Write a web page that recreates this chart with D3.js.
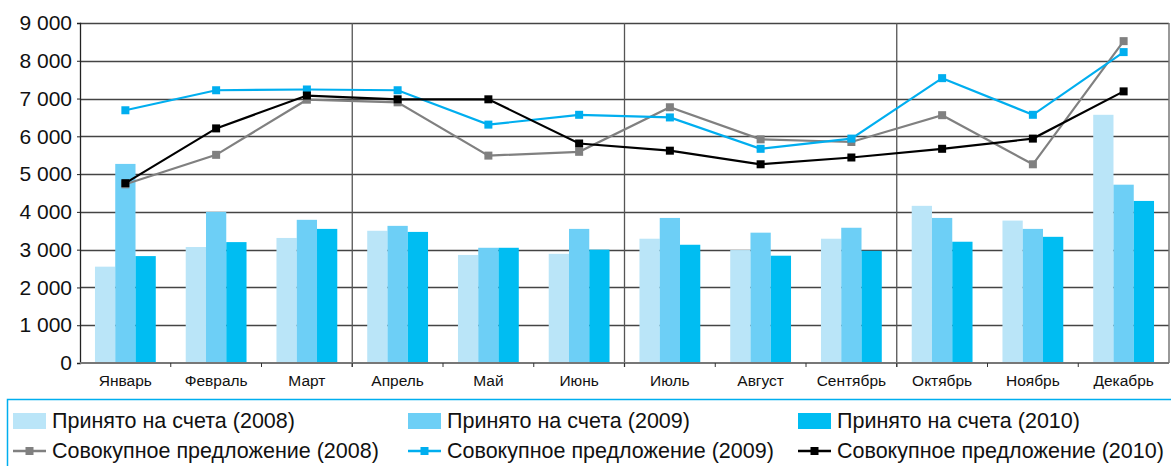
<!DOCTYPE html>
<html>
<head>
<meta charset="utf-8">
<script src="https://cdn.jsdelivr.net/npm/d3@7"></script>
<style>
  body { margin: 0; background: #fff; }
  svg { display: block; font-family: "Liberation Sans", Arial, sans-serif; }
</style>
</head>
<body>
<script>
/***** data *****/
var months = ["Январь", "Февраль", "Март", "Апрель", "Май", "Июнь",
              "Июль", "Август", "Сентябрь", "Октябрь", "Ноябрь", "Декабрь"];

var accepted2008 = [2550, 3070, 3310, 3500, 2860, 2890, 3290, 2990, 3290, 4160, 3770, 6570];
var accepted2009 = [5270, 4000, 3790, 3630, 3050, 3550, 3840, 3450, 3580, 3840, 3550, 4720];
var accepted2010 = [2830, 3200, 3550, 3470, 3050, 3000, 3130, 2840, 2970, 3210, 3340, 4290];

var supply2008 = [4730, 5510, 6970, 6900, 5490, 5590, 6770, 5920, 5850, 6560, 5260, 8520];
var supply2009 = [6690, 7220, 7240, 7220, 6310, 6570, 6500, 5670, 5940, 7540, 6570, 8230];
var supply2010 = [4760, 6210, 7080, 6980, 6980, 5810, 5620, 5260, 5440, 5670, 5940, 7190];

var yTicks = [0, 1000, 2000, 3000, 4000, 5000, 6000, 7000, 8000, 9000];

var barSeries = [
  {name: "Принято на счета (2008)", values: accepted2008, color: "#bae5f8"},
  {name: "Принято на счета (2009)", values: accepted2009, color: "#6dcff6"},
  {name: "Принято на счета (2010)", values: accepted2010, color: "#00bdf2"}
];
var lineSeries = [
  {name: "Совокупное предложение (2008)", values: supply2008, color: "#808080"},
  {name: "Совокупное предложение (2009)", values: supply2009, color: "#00aeef"},
  {name: "Совокупное предложение (2010)", values: supply2010, color: "#000000"}
];

/***** setup *****/
var width = 1171,
    height = 466,
    plotLeft = 80, plotRight = 1169, plotTop = 23, plotBottom = 363;

var svg = d3.select("body").append("svg")
    .attr("width", width)
    .attr("height", height);

var x0 = d3.scaleBand()
    .domain(months)
    .range([plotLeft, plotRight])
    .paddingInner(0.33)
    .paddingOuter(0.165);

var x1 = d3.scaleBand()
    .domain(d3.range(barSeries.length))
    .range([0, x0.bandwidth()]);

var y = d3.scaleLinear()
    .domain([0, 9000])
    .range([plotBottom, plotTop]);

var step = x0.step();

// title, mostly cut off at the top
svg.append("text")
    .attr("x", 1052)
    .attr("y", -5)
    .attr("text-anchor", "end")
    .style("font-size", "26px")
    .style("font-weight", "bold")
    .style("fill", "#00aeef")
    .text("Принятие на счета и совокупное предложение по месяцам года (январь – декабрь)");

// gridlines
svg.append("g")
  .selectAll("line")
  .data(yTicks.filter(function(d){ return d > 0; }))
  .enter().append("line")
    .attr("x1", plotLeft).attr("x2", plotRight)
    .attr("y1", function(d){ return Math.round(y(d)) + 0.5; })
    .attr("y2", function(d){ return Math.round(y(d)) + 0.5; })
    .style("stroke", "#444")
    .style("stroke-width", 1.3);

// quarter separators
svg.append("g")
  .selectAll("line")
  .data([3, 6, 9])
  .enter().append("line")
    .attr("x1", function(i){ return plotLeft + i * step; })
    .attr("x2", function(i){ return plotLeft + i * step; })
    .attr("y1", plotTop).attr("y2", plotBottom + 4)
    .style("stroke", "#555")
    .style("stroke-width", 1.3);

// right border
svg.append("line")
    .attr("x1", plotRight).attr("x2", plotRight)
    .attr("y1", plotTop).attr("y2", plotBottom)
    .style("stroke", "#777")
    .style("stroke-width", 1.5);

// bars
var groups = svg.append("g")
  .selectAll("g")
  .data(barSeries)
  .enter().append("g")
    .style("fill", function(d){ return d.color; });

groups.selectAll("rect")
  .data(function(d, i){ return d.values.map(function(v, j){ return {s: i, m: months[j], v: v}; }); })
  .enter().append("rect")
    .attr("x", function(d){ return x0(d.m) + x1(d.s); })
    .attr("width", x1.bandwidth())
    .attr("y", function(d){ return y(d.v); })
    .attr("height", function(d){ return y(0) - y(d.v); });

// axes
var yAxis = svg.append("g")
    .attr("transform", "translate(" + plotLeft + ",0)")
    .call(d3.axisLeft(y).tickValues(yTicks).tickSize(3).tickPadding(5)
      .tickFormat(function(d){ return d3.format(",")(d).replace(/,/g, " "); }));
yAxis.select(".domain").style("stroke", "#222").style("stroke-width", 1.3);
yAxis.selectAll(".tick line").style("stroke", "#222");
yAxis.selectAll("text").style("font-size", "21px").style("fill", "#111")
    .style("font-family", "'Liberation Sans', Arial, sans-serif");

var xAxis = svg.append("g")
    .attr("transform", "translate(0," + plotBottom + ")");
xAxis.append("line")
    .attr("x1", plotLeft).attr("x2", plotRight)
    .style("stroke", "#777")
    .style("stroke-width", 2);
xAxis.selectAll(".tk")
  .data(d3.range(1, 12))
  .enter().append("line")
    .attr("x1", function(i){ return plotLeft + i * step; })
    .attr("x2", function(i){ return plotLeft + i * step; })
    .attr("y1", 0).attr("y2", 4)
    .style("stroke", "#333");
xAxis.selectAll("text")
  .data(months)
  .enter().append("text")
    .attr("x", function(d){ return x0(d) + x0.bandwidth() / 2; })
    .attr("y", 23)
    .attr("text-anchor", "middle")
    .style("font-size", "15.5px")
    .style("fill", "#111")
    .text(function(d){ return d; });

// lines
var line = d3.line()
    .x(function(d, i){ return x0(months[i]) + x0.bandwidth() / 2; })
    .y(function(d){ return y(d); });

lineSeries.forEach(function(s){
  svg.append("path")
      .datum(s.values)
      .attr("d", line)
      .style("fill", "none")
      .style("stroke", s.color)
      .style("stroke-width", 2.2);
  svg.append("g")
    .selectAll("rect")
    .data(s.values)
    .enter().append("rect")
      .attr("x", function(d, i){ return x0(months[i]) + x0.bandwidth() / 2 - 4; })
      .attr("y", function(d){ return y(d) - 4; })
      .attr("width", 8).attr("height", 8)
      .style("fill", s.color);
});

/***** legend *****/
var legend = svg.append("g");
legend.append("rect")
    .attr("x", 7.5).attr("y", 399.5)
    .attr("width", 1200).attr("height", 100)
    .style("fill", "none")
    .style("stroke", "#00aeef")
    .style("stroke-width", 1.5);

var colX = [13, 408, 798];

barSeries.forEach(function(s, i){
  var g = legend.append("g").attr("transform", "translate(" + colX[i] + ",413)");
  g.append("rect").attr("width", 33).attr("height", 16).style("fill", s.color);
  g.append("text").attr("x", 39).attr("y", 15)
      .style("font-size", "21.5px").style("fill", "#111").text(s.name);
});

lineSeries.forEach(function(s, i){
  var g = legend.append("g").attr("transform", "translate(" + colX[i] + ",451)");
  g.append("line").attr("x1", 0).attr("x2", 33)
      .style("stroke", s.color).style("stroke-width", 2.6);
  g.append("rect").attr("x", 12.5).attr("y", -4).attr("width", 8).attr("height", 8)
      .style("fill", s.color);
  g.append("text").attr("x", 39).attr("y", 7)
      .style("font-size", "21.5px").style("fill", "#111").text(s.name);
});
</script>
</body>
</html>
